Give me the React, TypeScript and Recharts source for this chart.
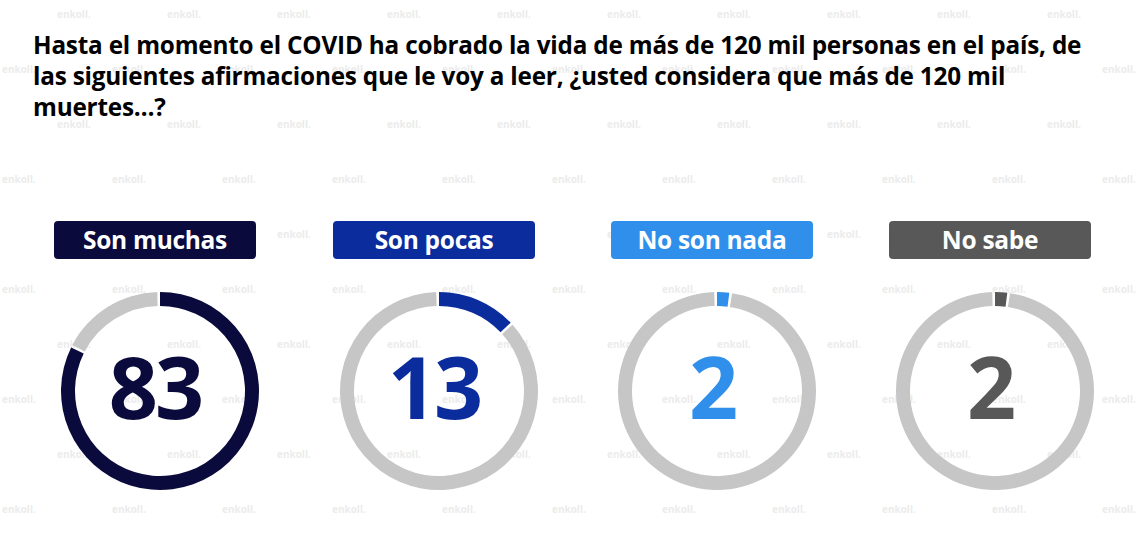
import React from 'react';
import { Cell, Pie, PieChart } from 'recharts';

const categories = ['Son muchas', 'Son pocas', 'No son nada', 'No sabe'];
const values = [83, 13, 2, 2];
const seriesColors = ['#0a0a3c', '#0b2c9c', '#2f8fea', '#585858'];
const restColor = '#c6c6c6';

const title = [
	'Hasta el momento el COVID ha cobrado la vida de más de 120 mil personas en el país, de',
	'las siguientes afirmaciones que le voy a leer, ¿usted considera que más de 120 mil',
	'muertes…?',
];

const W = 1146;
const H = 538;
const centersX = [155, 434, 712, 990];
const centerY = 386;

const Watermark: React.FC = () => {
	const items: React.ReactNode[] = [];
	for (let r = 0; r < 10; r++) {
		const y = 14 + r * 55;
		const x0 = r % 2 === 0 ? 75 : 20;
		for (let x = x0; x < W - 20; x += 110) {
			items.push(
				<div
					key={`${r}-${x}`}
					style={{
						position: 'absolute',
						left: x - 18,
						top: y - 7,
						fontSize: 10,
						fontWeight: 700,
						color: '#ececec',
						fontFamily: '"Open Sans", sans-serif',
					}}
				>
					enkoll.
				</div>,
			);
		}
	}
	return <>{items}</>;
};

export default function App() {
	return (
		<div
			style={{
				position: 'absolute',
				left: 0,
				top: 0,
				width: W,
				height: H,
				background: '#fff',
				overflow: 'hidden',
				fontFamily: '"Open Sans", sans-serif',
			}}
		>
			<Watermark />
			<div style={{ position: 'absolute', left: 33, top: 29 }}>
				{title.map((line) => (
					<div
						key={line}
						style={{
							fontSize: 24.3,
							fontWeight: 700,
							lineHeight: '31px',
							color: '#000',
							whiteSpace: 'nowrap',
							letterSpacing: -0.2,
						}}
					>
						{line}
					</div>
				))}
			</div>
			{categories.map((c, i) => (
				<div
					key={c}
					style={{
						position: 'absolute',
						left: centersX[i] - 101,
						top: 221,
						width: 202,
						height: 38,
						borderRadius: 4,
						background: seriesColors[i],
						color: '#fff',
						fontSize: 24.5,
						fontWeight: 700,
						lineHeight: '38px',
						textAlign: 'center',
						letterSpacing: -0.3,
					}}
				>
					{c}
				</div>
			))}
			<div style={{ position: 'absolute', left: 0, top: 0 }}>
				<PieChart width={W} height={H}>
					{values.map((v, i) => (
						<Pie
							key={categories[i]}
							data={[
								{ name: categories[i], value: v },
								{ name: 'resto', value: 100 - v },
							]}
							dataKey="value"
							cx={centersX[i]}
							cy={centerY}
							innerRadius={85}
							outerRadius={99}
							startAngle={90}
							endAngle={-270}
							paddingAngle={1.6}
							stroke="none"
							isAnimationActive={false}
						>
							<Cell fill={seriesColors[i]} />
							<Cell fill={restColor} />
						</Pie>
					))}
				</PieChart>
			</div>
			{values.map((v, i) => (
				<div
					key={`n-${i}`}
					style={{
						position: 'absolute',
						left: centersX[i] - 80,
						top: centerY - 60,
						width: 160,
						height: 120,
						lineHeight: '120px',
						textAlign: 'center',
						fontSize: 86,
						fontWeight: 700,
						letterSpacing: -3,
						color: seriesColors[i],
					}}
				>
					{v}
				</div>
			))}
		</div>
	);
}
